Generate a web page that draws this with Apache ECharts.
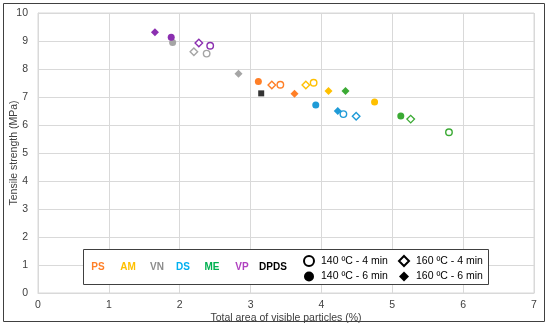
<!DOCTYPE html>
<html><head><meta charset="utf-8">
<script src="https://cdn.jsdelivr.net/npm/echarts@6/dist/echarts.min.js"></script>
<style>html,body{margin:0;padding:0;background:#fff}#c{width:550px;height:326px}</style>
</head><body><div id="c"></div>
<script>
// Groups in order
var groups = ['PS', 'AM', 'VN', 'DS', 'ME', 'VP'];
var groupColors = ['#FF7F27', '#FFC000', '#A5A5A5', '#1F9BD7', '#3BAA34', '#8B2FB0'];
var groupTextColors = ['#FF7F27', '#FFC000', '#8C8C8C', '#00B0F0', '#00B050', '#B040C0'];
// [x, y] per group for each condition
var c140_4 = [[3.42, 7.44], [3.89, 7.51], [2.38, 8.55], [4.31, 6.39], [5.80, 5.74], [2.43, 8.83]];
var c160_4 = [[3.30, 7.43], [3.78, 7.43], [2.20, 8.62], [4.49, 6.31], [5.26, 6.21], [2.27, 8.93]];
var c140_6 = [[3.11, 7.55], [4.75, 6.82], [1.90, 8.95], [3.92, 6.71], [5.12, 6.32], [1.88, 9.13]];
var c160_6 = [[3.62, 7.12], [4.10, 7.21], [2.83, 7.83], [4.23, 6.50], [4.34, 7.21], [1.65, 9.31]];
var dpds = [[3.15, 7.13]];
var conditionNames = ['140 ºC - 4 min', '160 ºC - 4 min', '140 ºC - 6 min', '160 ºC - 6 min'];
var xTicks = [0, 1, 2, 3, 4, 5, 6, 7];
var yTicks = [0, 1, 2, 3, 4, 5, 6, 7, 8, 9, 10];

var FONT = 'Liberation Sans, Arial, sans-serif';
var sets = [c140_4, c160_4, c140_6, c160_6];
var symbols = ['circle', 'diamond', 'circle', 'diamond'];
var hollow = [true, true, false, false];
var sizes = [6.5, 7.5, 7, 8];
function mk(arr, isHollow) {
  return arr.map(function (p, i) {
    return { value: p, itemStyle: isHollow
      ? { color: '#fff', borderColor: groupColors[i], borderWidth: 1.4 }
      : { color: groupColors[i], borderWidth: 0 } };
  });
}
var series = sets.map(function (s, k) {
  return {
    name: conditionNames[k], type: 'scatter', symbol: symbols[k], symbolSize: sizes[k],
    itemStyle: hollow[k] ? { color: '#fff', borderColor: '#000', borderWidth: 1.4, opacity: 1 }
                         : { color: '#000', borderWidth: 0, opacity: 1 },
    data: mk(s, hollow[k]), z: 3
  };
});
series.push({ name: 'DPDS', type: 'scatter', symbol: 'rect', symbolSize: 6,
  itemStyle: { color: '#000' }, data: dpds });

var graphics = [
  { type: 'rect', shape: { x: 3.5, y: 3.5, width: 541, height: 318 }, style: { fill: 'none', stroke: '#404040', lineWidth: 1 }, z: 100 },
  { type: 'rect', shape: { x: 83.5, y: 249.5, width: 405, height: 35 }, style: { fill: '#fff', stroke: '#404040', lineWidth: 1 }, z: 10 }
];
var txtX = [98, 128, 157, 183, 212, 242];
groups.forEach(function (g, i) {
  graphics.push({ type: 'text', x: txtX[i], y: 267, z: 11,
    style: { text: g, fill: groupTextColors[i], font: 'bold 10px ' + FONT, textAlign: 'center', textVerticalAlign: 'middle' } });
});
graphics.push({ type: 'text', x: 273, y: 267, z: 11,
  style: { text: 'DPDS', fill: '#000', font: 'bold 10px ' + FONT, textAlign: 'center', textVerticalAlign: 'middle' } });

var legendCommon = {
  orient: 'vertical', itemWidth: 10, itemHeight: 10, itemGap: 4, padding: 0, z: 12,
  textStyle: { fontFamily: FONT, fontSize: 10.5, color: '#000', padding: [0, 0, 0, 2] }, selectedMode: false
};
var option = {
  animation: false,
  textStyle: { fontFamily: FONT },
  grid: { left: 38, right: 16, top: 13, bottom: 33, show: true, borderColor: '#D9D9D9', borderWidth: 1,
    containLabel: false, outerBoundsMode: 'none' },
  xAxis: {
    type: 'value', min: xTicks[0], max: xTicks[xTicks.length - 1], interval: 1,
    name: 'Total area of visible particles (%)', nameLocation: 'middle', nameGap: 20, nameMoveOverlap: false,
    nameTextStyle: { fontFamily: FONT, fontSize: 10.5, color: '#404040' },
    axisLine: { lineStyle: { color: '#D9D9D9' } }, axisTick: { show: false },
    axisLabel: { fontFamily: FONT, fontSize: 10.5, color: '#404040', margin: 7 },
    splitLine: { lineStyle: { color: '#D9D9D9' } }
  },
  yAxis: {
    type: 'value', min: yTicks[0], max: yTicks[yTicks.length - 1], interval: 1,
    name: 'Tensile strength (MPa)', nameLocation: 'middle', nameGap: 18, nameMoveOverlap: false,
    nameTextStyle: { fontFamily: FONT, fontSize: 10.5, color: '#404040' },
    axisLine: { show: true, lineStyle: { color: '#D9D9D9' } }, axisTick: { show: false },
    axisLabel: { fontFamily: FONT, fontSize: 10.5, color: '#404040', margin: 10 },
    splitLine: { lineStyle: { color: '#D9D9D9' } }
  },
  legend: [
    Object.assign({ left: 303, top: 255, data: [conditionNames[0], conditionNames[2]] }, legendCommon),
    Object.assign({ left: 398, top: 255, data: [conditionNames[1], conditionNames[3]] }, legendCommon)
  ],
  graphic: graphics,
  series: series
};
echarts.init(document.getElementById('c')).setOption(option);
</script></body></html>
